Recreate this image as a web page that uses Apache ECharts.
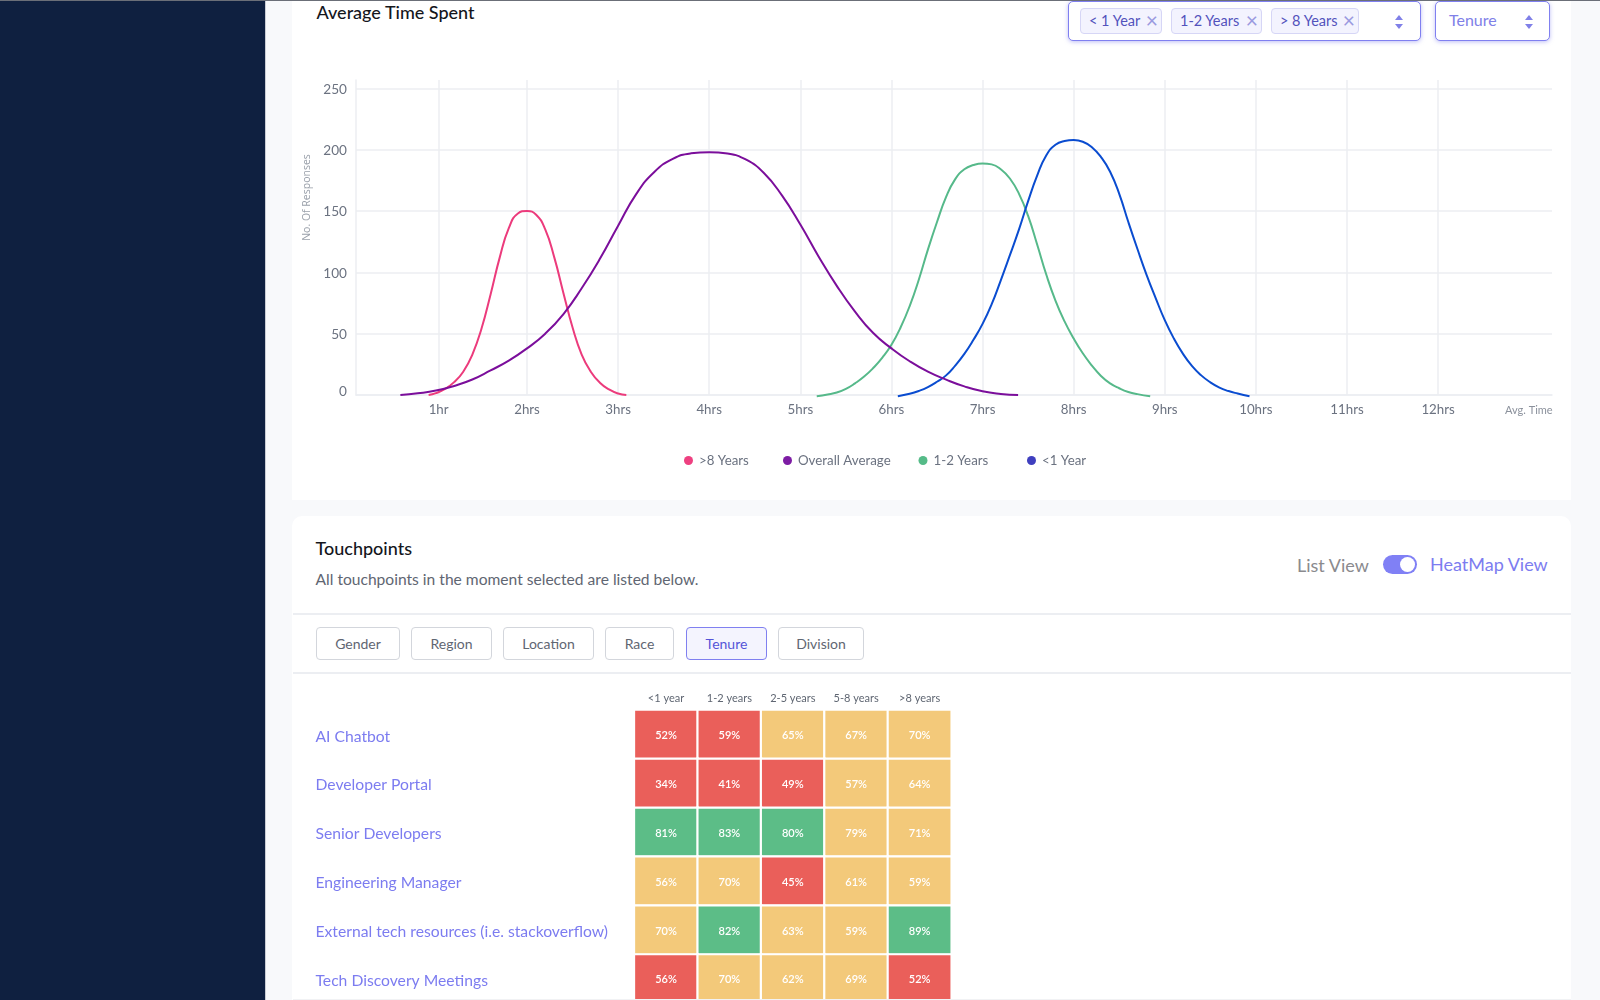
<!DOCTYPE html>
<html>
<head>
<meta charset="utf-8">
<title>Average Time Spent</title>
<script src="https://cdn.jsdelivr.net/npm/echarts@6/dist/echarts.min.js"></script>
<style>
    html, body { margin: 0; padding: 0; background: #f8f9fb; }
    body { font-family: Lato, sans-serif; }
    #page { position: relative; width: 1600px; height: 1000px; overflow: hidden; background: #f8f9fb; }
    #page div, #page span { position: absolute; white-space: nowrap; box-sizing: border-box; }
    #chart { left: 0; top: 0; width: 1600px; height: 1000px; }
    .card { background: #fff; left: 292px; width: 1279px; }
    .rule { left: 293px; width: 1278px; height: 2px; background: #eceef2; }
    .btn { top: 627px; height: 33px; border: 1px solid #d3d6dc; border-radius: 4px; color: #5f6672;
           font-size: 14px; line-height: 31px; text-align: center; background: #fff; }
    .btn.on { background: #f4f4fe; border-color: #8080f0; color: #5454d8; }
    .select { top: 1px; height: 40px; border: 1.6px solid #8080f0; border-radius: 5px; background: #fff;
              box-shadow: 0 1px 4px rgba(128, 128, 240, .5); }
    .chip { top: 8px; height: 26px; background: #f3f3fe; border: 1px solid #d6d6f6; border-radius: 4px;
            color: #5252bc; font-size: 14.5px; line-height: 24px; padding-left: 8px; }
    .chip b { position: absolute; right: 3px; top: 0; font-weight: 400; color: #9a9ae0; font-size: 21px; line-height: 22px; }
    .up, .down { width: 0; height: 0; border-left: 4px solid transparent; border-right: 4px solid transparent; }
    .up { top: 15px; border-bottom: 5px solid #8080e8; }
    .down { top: 24px; border-top: 5px solid #8080e8; }
</style>
</head>
<body>
<div id="page">
    <div style="left:0;top:0;width:265px;height:1000px;background:#0f2040"></div>
    <div style="left:265px;top:0;width:1px;height:1000px;background:#c9ccd4"></div>
    <div class="card" style="top:0;height:500px"></div>
    <div class="card" style="top:516px;height:490px;border-radius:10px 10px 0 0"></div>

    <div style="left:316.5px;top:1px;font-size:18px;line-height:22px;color:#14161c;font-weight:500">Average Time Spent</div>

    <div class="select" style="left:1068px;width:353px"></div>
    <div class="chip" style="left:1080px;width:82px">&lt; 1 Year<b>×</b></div>
    <div class="chip" style="left:1171px;width:91px">1-2 Years<b>×</b></div>
    <div class="chip" style="left:1271px;width:88px">&gt; 8 Years<b>×</b></div>
    <div class="up" style="left:1395px"></div>
    <div class="down" style="left:1395px"></div>
    <div class="select" style="left:1435px;width:115px"></div>
    <div style="left:1449px;top:9px;font-size:16px;line-height:22px;color:#8080e8">Tenure</div>
    <div class="up" style="left:1525px"></div>
    <div class="down" style="left:1525px"></div>

    <div style="left:315.5px;top:537px;font-size:18px;line-height:22px;color:#14161c;font-weight:500">Touchpoints</div>
    <div style="left:315.5px;top:568px;font-size:15.6px;line-height:22px;color:#5f6672">All touchpoints in the moment selected are listed below.</div>
    <div style="left:1297px;top:553px;font-size:18px;line-height:24px;color:#8a8a8e">List View</div>
    <div style="left:1383px;top:555px;width:34px;height:19px;border-radius:10px;background:#8080f5"></div>
    <div style="left:1400px;top:557px;width:15px;height:15px;border-radius:50%;background:#fff"></div>
    <div style="left:1430px;top:552px;font-size:18px;line-height:24px;color:#7c7cf0">HeatMap View</div>

    <div class="rule" style="top:613px"></div>
    <div class="btn" style="left:316px;width:84px">Gender</div>
    <div class="btn" style="left:411px;width:81px">Region</div>
    <div class="btn" style="left:503px;width:91px">Location</div>
    <div class="btn" style="left:605px;width:69px">Race</div>
    <div class="btn on" style="left:686px;width:81px">Tenure</div>
    <div class="btn" style="left:778px;width:86px">Division</div>
    <div class="rule" style="top:672px"></div>

    <div id="chart"></div>
    <div style="left:293px;top:999px;width:1278px;height:1px;background:#f1f2f4"></div>
    <div style="left:0;top:0;width:1600px;height:1px;background:#6b6f78"></div>
</div>

<script>
'use strict';

// the 1hr gridline sits a little right of its even spot in the reference
const hourTicks = [1.03, 2, 3, 4, 5, 6, 7, 8, 9, 10, 11, 12];
const responseTicks = [0, 50, 100, 150, 200, 250];

// [hours, responses]
const overEightYears = [
    [0.92, 0], [1.0, 1.5], [1.1, 5], [1.2, 10.5], [1.3, 19], [1.4, 33], [1.5, 54], [1.6, 82], [1.7, 112],
    [1.8, 136], [1.9, 148], [2.0, 150], [2.1, 147], [2.2, 135], [2.3, 112], [2.4, 83], [2.5, 55], [2.6, 33],
    [2.7, 19], [2.8, 10], [2.9, 4.5], [3.0, 1.2], [3.09, 0]
];
const overallAverage = [
    [0.61, 0], [0.8, 1.4], [1.0, 3.6], [1.2, 7.4], [1.4, 12.6], [1.6, 20], [1.8, 28], [2.0, 38], [2.2, 50],
    [2.4, 66], [2.6, 87], [2.8, 111], [3.0, 138], [3.2, 164], [3.4, 182], [3.6, 192.5], [3.8, 197], [4.0, 198],
    [4.2, 196.8], [4.4, 192], [4.6, 181], [4.8, 162.5], [5.0, 139], [5.2, 113], [5.4, 89], [5.6, 68], [5.8, 50.5],
    [6.0, 38], [6.2, 27.5], [6.4, 19], [6.6, 12.5], [6.8, 7], [7.0, 3], [7.2, 0.9], [7.39, 0]
];
const oneToTwoYears = [
    [5.18, -1], [5.3, 0.4], [5.4, 2], [5.5, 5], [5.6, 9.5], [5.7, 15], [5.8, 22], [5.9, 30.5], [6.0, 41], [6.1, 55],
    [6.2, 72.5], [6.3, 94], [6.4, 118.5], [6.5, 141], [6.6, 161.5], [6.7, 176], [6.8, 184], [6.9, 187.5], [7.0, 188.8],
    [7.1, 188], [7.2, 184], [7.3, 176.5], [7.4, 164], [7.5, 146], [7.6, 122.5], [7.7, 98], [7.8, 77], [7.9, 60],
    [8.0, 46], [8.1, 34], [8.2, 24], [8.3, 15.5], [8.4, 9.5], [8.5, 5.5], [8.6, 2.5], [8.7, 0.7], [8.84, -1]
];
const underOneYear = [
    [6.07, -1], [6.2, 1], [6.3, 3.3], [6.4, 6.5], [6.5, 10.8], [6.6, 16], [6.7, 24], [6.8, 33.5], [6.9, 45], [7.0, 58],
    [7.1, 74], [7.2, 93.5], [7.3, 114], [7.4, 135], [7.5, 158], [7.6, 179], [7.7, 195.5], [7.8, 204], [7.9, 207],
    [8.0, 207.8], [8.1, 206.5], [8.2, 202], [8.3, 194], [8.4, 182], [8.5, 164], [8.6, 141], [8.7, 119], [8.8, 98],
    [8.9, 79], [9.0, 61], [9.1, 46], [9.2, 33.5], [9.3, 23.5], [9.4, 16], [9.5, 10.3], [9.6, 6], [9.7, 3.2], [9.8, 1.2], [9.93, -1]
];

const seriesNames = ['>8 Years', 'Overall Average', '1-2 Years', '<1 Year'];
const lineColors = ['#ec3b7c', '#7b0e9b', '#56b98a', '#0a4cd0'];
const legendColors = ['#ee4080', '#7d1ca4', '#55bb88', '#3f3fbf'];

const tenureBands = ['<1 year', '1-2 years', '2-5 years', '5-8 years', '>8 years'];
const touchpoints = [
    'AI Chatbot', 'Developer Portal', 'Senior Developers', 'Engineering Manager',
    'External tech resources (i.e. stackoverflow)', 'Tech Discovery Meetings'
];
const scores = [
    [52, 59, 65, 67, 70],
    [34, 41, 49, 57, 64],
    [81, 83, 80, 79, 71],
    [56, 70, 45, 61, 59],
    [70, 82, 63, 59, 89],
    [56, 70, 62, 69, 52]
];
// r = red, y = yellow, g = green; the colours don't follow one fixed threshold
const scoreLevels = [
    ['r', 'r', 'y', 'y', 'y'],
    ['r', 'r', 'r', 'y', 'y'],
    ['g', 'g', 'g', 'y', 'y'],
    ['y', 'y', 'r', 'y', 'y'],
    ['y', 'g', 'y', 'y', 'g'],
    ['r', 'y', 'y', 'y', 'r']
];
const levelColors = { r: '#ea5f5a', y: '#f3c97a', g: '#5cbd87' };

const labelColor = '#6b7280';
const gridColor = '#eceef2';
const fontFamily = 'Lato, sans-serif';

// The reference legend isn't evenly spaced, so each entry gets its own legend.
const legendLefts = [679, 778, 913.5, 1022];

const curves = [overEightYears, overallAverage, oneToTwoYears, underOneYear];

const lineSeries = curves.map((points, i) => ({
    name: seriesNames[i],
    type: 'line',
    xAxisIndex: 0,
    yAxisIndex: 0,
    data: points,
    smooth: 0.5,
    showSymbol: false,
    clip: false,
    itemStyle: { color: legendColors[i] },
    lineStyle: { color: lineColors[i], width: 2 },
    z: i === 1 ? 3 : 2
}));

const legends = seriesNames.map((name, i) => ({
    left: legendLefts[i],
    top: 449,
    itemWidth: 9,
    itemHeight: 9,
    icon: 'circle',
    data: [name],
    textStyle: { color: labelColor, fontSize: 13.3, padding: [0, 0, 0, 1] }
}));

const cells = [];
scores.forEach((row, r) => {
    row.forEach((score, c) => {
        cells.push({
            value: [c, r, score],
            itemStyle: { color: levelColors[scoreLevels[r][c]] }
        });
    });
});

const chart = echarts.init(document.getElementById('chart'));

chart.setOption({
    animation: false,
    textStyle: { fontFamily: fontFamily },
    legend: legends,
    grid: [
        { left: 356, top: 80, width: 1196, height: 315, outerBoundsMode: 'none' },
        { left: 634.3, top: 710, width: 317, height: 293.4, outerBoundsMode: 'none' }
    ],
    xAxis: [
        {
            type: 'value',
            gridIndex: 0,
            min: 0.123,
            max: 13.25,
            name: 'Avg. Time',
            nameLocation: 'end',
            nameGap: -47,
            nameTextStyle: { color: '#8b919c', fontSize: 11, verticalAlign: 'top', padding: [10, 0, 0, 0] },
            axisLine: { lineStyle: { color: gridColor, width: 1.5 } },
            axisTick: { show: false, customValues: hourTicks },
            axisLabel: {
                customValues: hourTicks,
                color: labelColor,
                fontSize: 13.3,
                margin: 8,
                formatter: (v) => (Math.round(v) === 1 ? '1hr' : Math.round(v) + 'hrs')
            },
            splitLine: { show: true, lineStyle: { color: gridColor, width: 1.5 } }
        },
        {
            type: 'category',
            gridIndex: 1,
            position: 'top',
            data: tenureBands,
            axisLine: { show: false },
            axisTick: { show: false },
            axisLabel: { color: '#5f6672', fontSize: 11, margin: 6 },
            splitLine: { show: false }
        }
    ],
    yAxis: [
        {
            type: 'value',
            gridIndex: 0,
            min: 0,
            max: 256.8,
            name: 'No. Of Responses',
            nameLocation: 'middle',
            nameGap: 38,
            nameTextStyle: { color: '#9aa0aa', fontSize: 10.5, fontFamily: 'Open Sans, sans-serif', padding: [0, 0, 0, 80] },
            axisLine: { show: true, lineStyle: { color: gridColor, width: 1.5 } },
            axisTick: { show: false, customValues: responseTicks },
            axisLabel: {
                customValues: responseTicks,
                color: labelColor,
                fontSize: 13.6,
                margin: 9,
                padding: [2, 0, 0, 0],
                formatter: (v) => (v === 0 ? '{zero|0}' : String(v)),
                rich: { zero: { fontSize: 13.6, color: labelColor, padding: [0, 0, 8, 0] } }
            },
            splitLine: { show: true, lineStyle: { color: gridColor, width: 1.5 } }
        },
        {
            type: 'category',
            gridIndex: 1,
            inverse: true,
            data: touchpoints,
            axisLine: { show: false },
            axisTick: { show: false },
            axisLabel: {
                align: 'left',
                margin: 318.8,
                formatter: (v) => '{name|' + v + '}',
                rich: { name: { color: '#7c7cf0', fontSize: 15.7, padding: [4, 0, 0, 0] } }
            },
            splitLine: { show: false }
        }
    ],
    series: lineSeries.concat([{
        type: 'heatmap',
        xAxisIndex: 1,
        yAxisIndex: 1,
        data: cells,
        itemStyle: { borderColor: '#fff', borderWidth: 2.2 },
        label: {
            show: true,
            formatter: (p) => '{pct|' + p.value[2] + '%}',
            rich: { pct: { color: '#fff', fontSize: 11, fontWeight: 600, padding: [2, 0, 0, 0] } }
        },
        emphasis: { disabled: true }
    }])
});
</script>
</body>
</html>
